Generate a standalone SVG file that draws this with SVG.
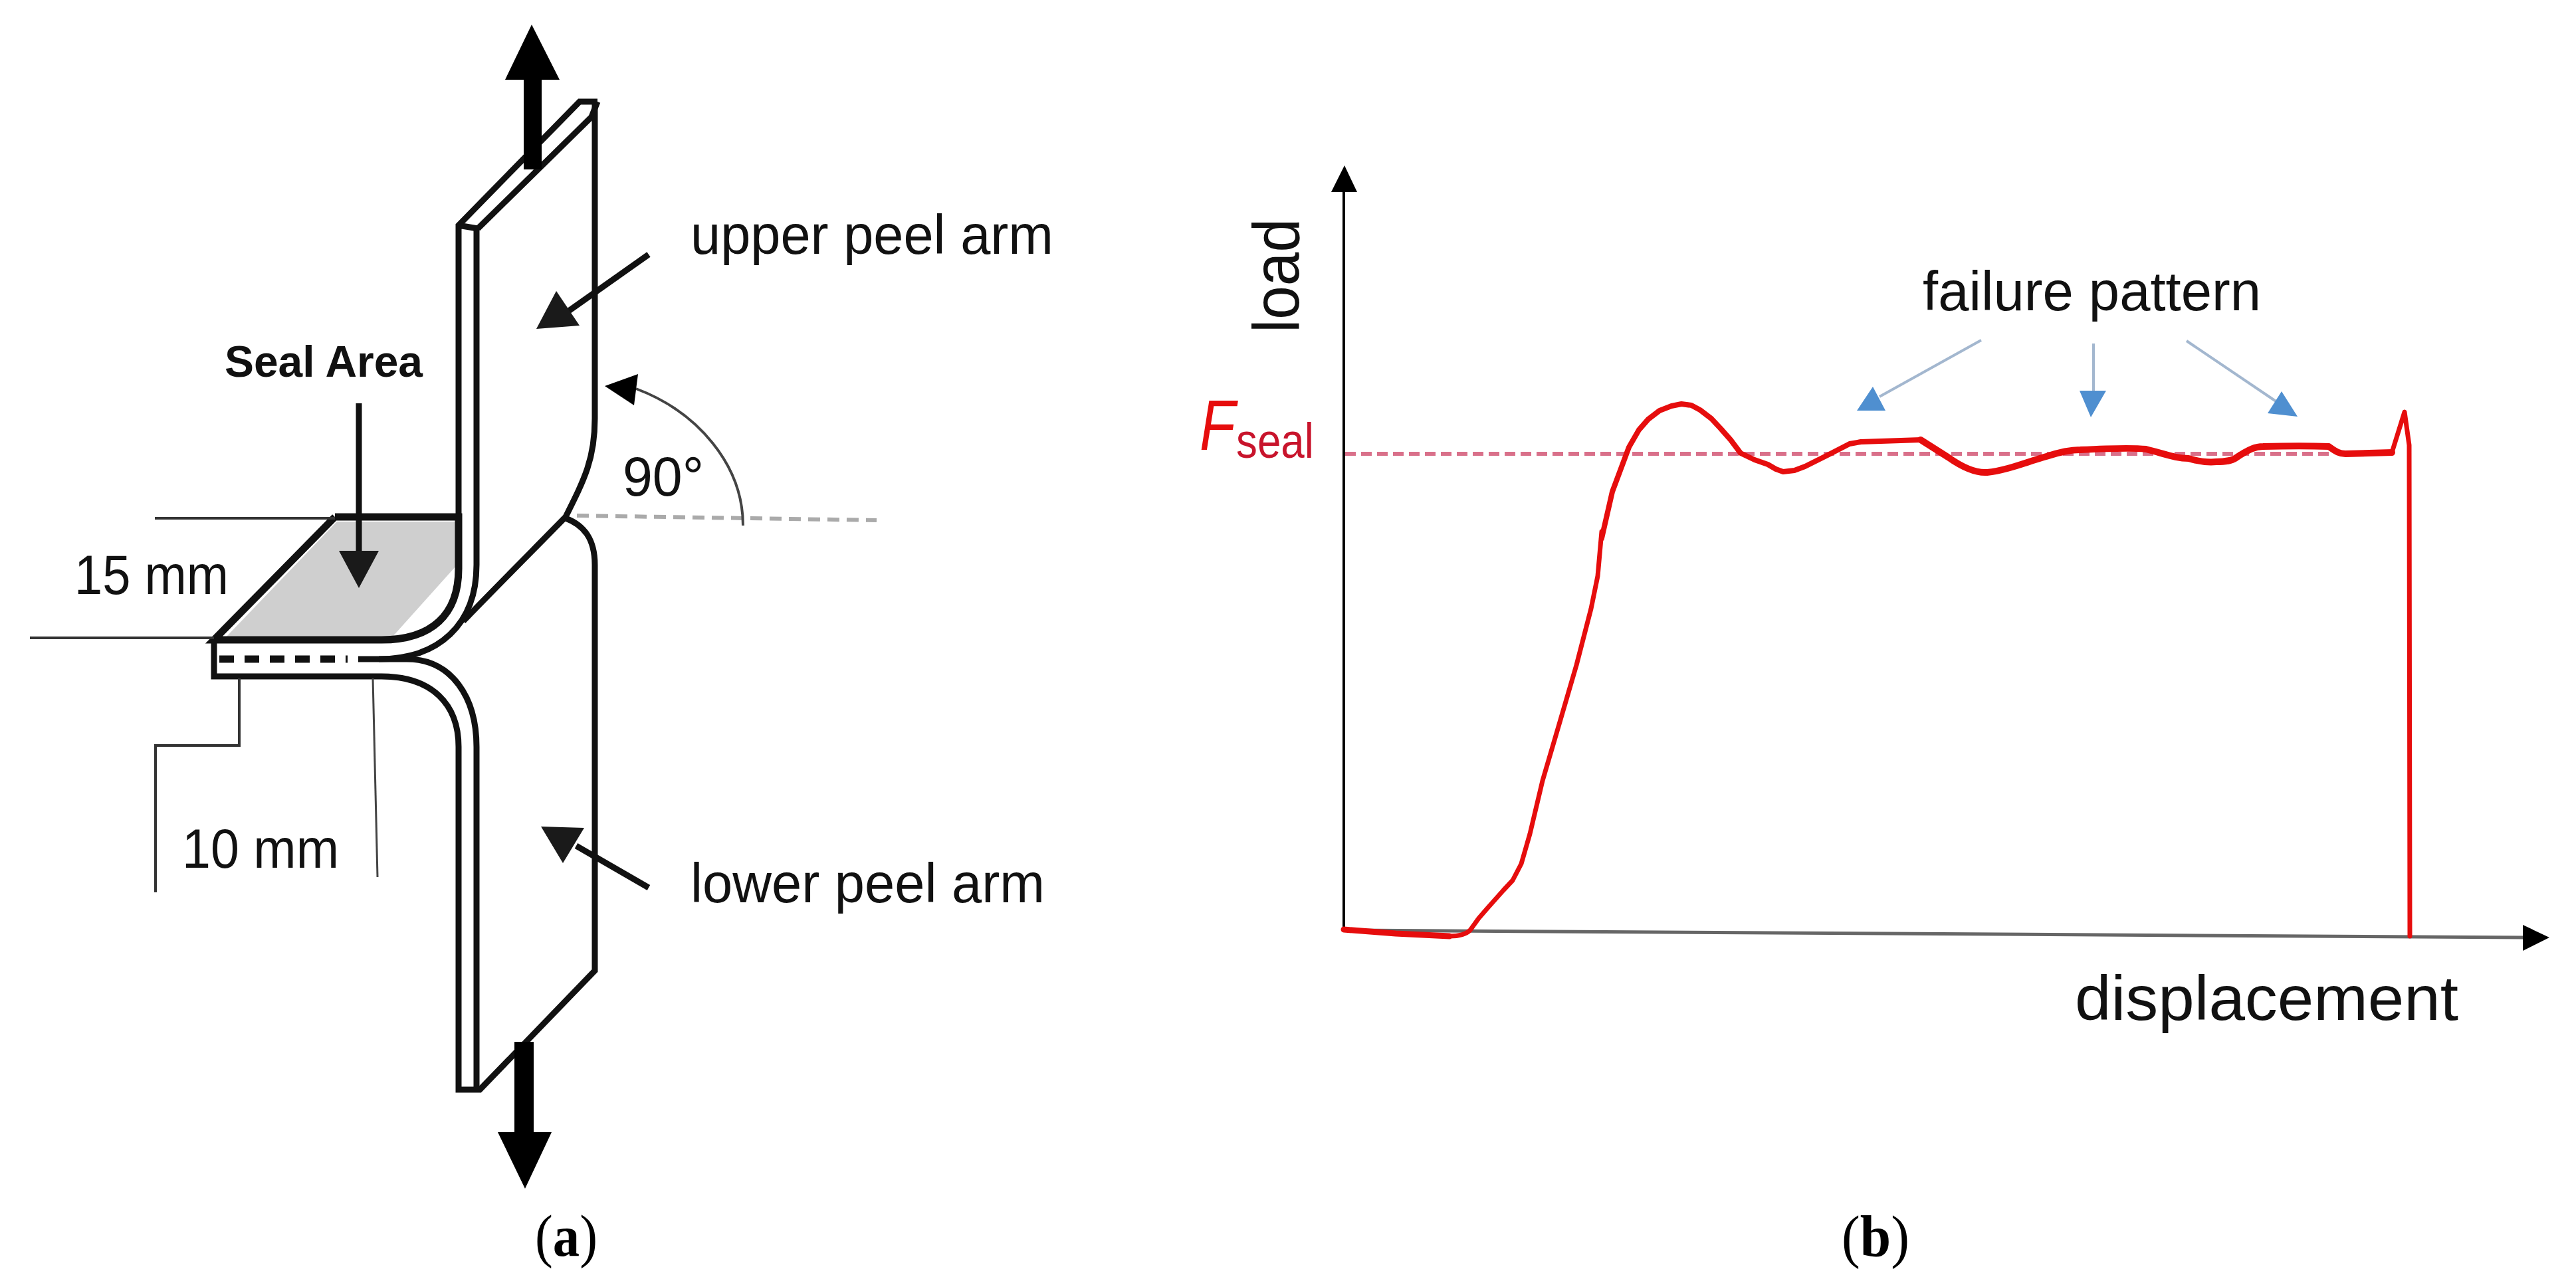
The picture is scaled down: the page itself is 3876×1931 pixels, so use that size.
<svg xmlns="http://www.w3.org/2000/svg" width="3876" height="1931" viewBox="0 0 3876 1931">
<style>
text{font-family:"Liberation Sans",Arial,sans-serif;fill:#111}
.t{font-size:84px}
.cap{font-family:"Liberation Serif",serif;font-size:88px;fill:#000}
.k{fill:none;stroke:#111;stroke-width:9}
.thin{fill:none;stroke:#333;stroke-width:4}
.hair{fill:none;stroke:#444;stroke-width:3}
.head{fill:#1a1a1a}
.blue{fill:none;stroke:#a3b7cf;stroke-width:4}
.bh{fill:#4f8fd0}
.red{fill:none;stroke:#e60d0d;stroke-linejoin:round;stroke-linecap:round}
</style>
<rect width="3876" height="1931" fill="#fff"/>
<g id="panel-a">
<g id="seal-area-fill"><polygon points="338,961 507,785 686,785 686,852 590,959" fill="#cfcfcf"/></g>
<g id="specimen">
<path class="k" d="M690 778V339L872 153H899M719 344L890 176L899 153M689 339L719 344"/>
<path class="k" d="M895 153V630C895 690 880 720 851 778C805 825 750 880 697 935"/>
<path class="k" d="M717 344V850C717 940 660 992 570 992H539"/>
<path class="k" style="stroke-width:11" d="M504 778H690V856C690 925 650 963 574 963H322L504 778"/>
<path class="k" d="M322 963V1018H574C650 1018 690 1060 690 1124V1640H722L895 1461V850C895 810 878 790 851 780"/>
<path class="k" d="M570 992H612C680 992 717 1050 717 1124V1640"/>
<path class="k" style="stroke-width:11" stroke-dasharray="22 16" d="M330 992H523"/>
</g>
<g id="dimensions">
<path class="thin" d="M233 780H504M45 960H322"/>
<path class="thin" d="M360 1021V1122H234V1343"/>
<path class="hair" d="M561 1021L568 1320"/>
<path fill="none" stroke="#aaa" stroke-width="6" stroke-dasharray="18 11" d="M868 776L1319 783"/>
<path fill="none" stroke="#444" stroke-width="4" d="M957 585C1050 620 1118 700 1118 791"/>
<polygon points="910,581 960,563 954,610" fill="#000"/>
</g>
<g id="load-arrows">
<polygon points="800,37 842,120 815,120 815,255 788,255 788,120 760,120" fill="#000"/>
<polygon points="749,1704 774,1704 774,1568 803,1568 803,1704 830,1704 790,1789" fill="#000"/>
</g>
<g id="callouts">
<path class="k" d="M976 383L850 472"/>
<polygon class="head" points="807,495 837,438 872,490"/>
<path class="k" d="M976 1336L867 1273"/>
<polygon class="head" points="814,1244 879,1246 847,1299"/>
<path class="k" d="M540 607V835"/>
<polygon class="head" points="510,829 570,829 540,885"/>
</g>
<g id="labels-a">
<text x="338" y="567" font-size="66" font-weight="700" textLength="298" lengthAdjust="spacingAndGlyphs">Seal Area</text>
<text class="t" x="112" y="894" textLength="232" lengthAdjust="spacingAndGlyphs">15 mm</text>
<text class="t" x="274" y="1306" textLength="236" lengthAdjust="spacingAndGlyphs">10 mm</text>
<text class="t" x="937" y="746" textLength="122" lengthAdjust="spacingAndGlyphs">90°</text>
<text class="t" x="1039" y="382" textLength="546" lengthAdjust="spacingAndGlyphs">upper peel arm</text>
<text class="t" x="1039" y="1358" textLength="533" lengthAdjust="spacingAndGlyphs">lower peel arm</text>
</g>
<text id="caption-a" class="cap" x="805" y="1890" textLength="94" lengthAdjust="spacingAndGlyphs">(<tspan font-weight="700">a</tspan>)</text>
</g>
<g id="panel-b">
<g id="axes">
<path fill="none" stroke="#000" stroke-width="4" d="M2022 285V1400"/>
<polygon points="2023,249 2042,289 2003,289" fill="#000"/>
<path fill="none" stroke="#666" stroke-width="5" d="M2022 1400L3800 1411"/>
<polygon points="3836,1411 3796,1392 3796,1431" fill="#000"/>
</g>
<path id="fseal-line" fill="none" stroke="#d9708a" stroke-width="6" stroke-dasharray="16 8" d="M2024 683H3510"/>
<g id="curve">
<path class="red" stroke-width="7" d="M2181 1409Q2203 1409 2212 1400L2225 1382L2238 1367L2262 1340L2276 1325L2289 1300L2302 1255L2321 1175L2346 1090L2372 1001L2394 916L2404 867L2410 800"/>
<path class="red" stroke-width="9" d="M2022 1399L2100 1405L2181 1409"/>
<path class="red" stroke-width="8" d="M2410 810L2426 740L2451 673L2466 647L2480 631L2497 618L2515 611L2530 608L2545 610L2558 617L2575 630L2589 645L2604 662L2619 682L2640 692L2660 699L2672 706L2683 710L2700 708L2716 702L2750 685L2783 668L2800 665L2890 662"/>
<path class="red" stroke-width="10" d="M2890 662L2931 688C2955 705 2975 712 2990 711C3020 708 3050 695 3079 687C3100 680 3115 677 3130 677C3170 675 3210 674 3229 676C3260 684 3275 690 3293 690C3310 695 3325 696 3335 695C3350 695 3360 692 3363 690C3385 675 3395 672 3405 672C3440 671 3480 671 3504 672C3515 680 3520 683 3529 683L3599 681"/>
<path class="red" stroke-width="7" d="M3599 681L3618 620L3625 670L3626 1409"/>
</g>
<g id="failure-arrows">
<path class="blue" d="M2981 512L2828 597"/><polygon class="bh" points="2818,582 2794,618 2837,618"/>
<path class="blue" d="M3150 517V590"/><polygon class="bh" points="3129,588 3169,588 3146,628"/>
<path class="blue" d="M3290 513L3426 605"/><polygon class="bh" points="3433,589 3412,622 3457,627"/>
</g>
<g id="labels-b">
<text class="t" x="2893" y="467" textLength="509" lengthAdjust="spacingAndGlyphs">failure pattern</text>
<text x="3122" y="1535" font-size="94" textLength="577" lengthAdjust="spacingAndGlyphs">displacement</text>
<text transform="translate(1954 501) rotate(-90)" font-size="99" textLength="172" lengthAdjust="spacingAndGlyphs">load</text>
<text transform="translate(1805 677) scale(1 1.22)" font-size="88" font-style="italic" style="fill:#e60d0d">F</text>
<text x="1860" y="689" font-size="74" style="fill:#c8142c" textLength="117" lengthAdjust="spacingAndGlyphs">seal</text>
</g>
<text id="caption-b" class="cap" x="2771" y="1891" textLength="102" lengthAdjust="spacingAndGlyphs">(<tspan font-weight="700">b</tspan>)</text>
</g>
</svg>
